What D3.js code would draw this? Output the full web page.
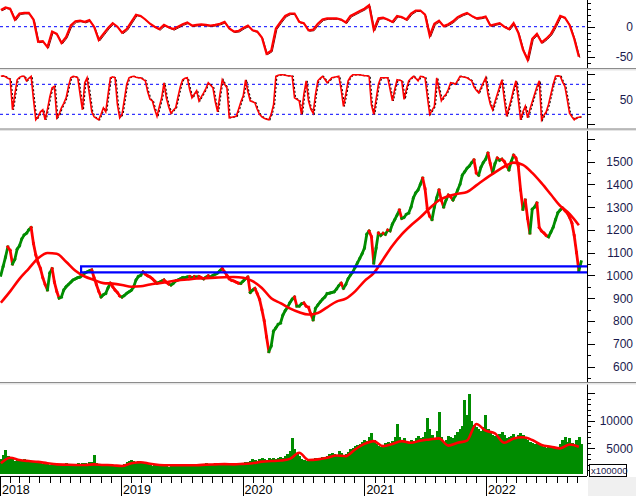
<!DOCTYPE html>
<html><head><meta charset="utf-8">
<script src="https://cdn.jsdelivr.net/npm/d3@7"></script>
<style>body{margin:0;background:#fff}svg{display:block;font-family:"Liberation Sans",Arial,sans-serif}</style>
</head><body><svg id="c" width="636" height="496"></svg>
<script>
// ---------------- DATA ----------------
const firstWeek = "2018-01-05";           // weekly samples, one every 7 days
const closes = [1000,1040,1080,1125,1110,1050,1070,1115,1130,1160,1177,1185,1200,1210,1140,1090,1055,1030,990,960,
936,1010,1030,970,930,900,905,936,950,960,970,980,985,990,993,1000,1010,1015,1020,1024,
990,960,930,905,915,921,945,966,950,936,925,910,905,912,921,928,935,950,980,995,
1000,1015,1005,998,993,985,975,966,970,975,980,970,962,958,965,975,980,985,990,990,
993,995,990,995,993,995,990,985,992,998,993,1000,1005,1010,1020,1030,1015,1000,985,978,
975,970,966,965,975,985,993,925,935,943,920,895,850,800,730,665,690,755,770,785,
791,825,845,860,880,895,905,865,865,875,879,865,860,830,805,855,870,883,895,905,
920,922,925,928,940,955,966,943,960,985,1001,1015,1035,1055,1075,1095,1120,1180,1195,1170,
1054,1120,1186,1175,1185,1180,1199,1195,1225,1245,1265,1287,1250,1255,1268,1274,1300,1340,1362,1375,
1400,1427,1380,1290,1260,1245,1300,1340,1375,1330,1300,1330,1353,1345,1331,1350,1375,1400,1440,1455,
1470,1480,1495,1507,1450,1440,1475,1495,1510,1537,1490,1450,1490,1515,1505,1510,1500,1480,1463,1500,
1528,1515,1480,1375,1290,1331,1250,1186,1290,1300,1318,1210,1195,1186,1175,1169,1190,1212,1245,1275,
1287,1296,1285,1274,1255,1230,1175,1100,1020,1060];
const volumes = [3000,3800,4700,3600,3400,3000,2800,2900,2700,2800,3000,2600,2700,2500,2600,2800,2400,2500,
2200,2100,2300,2000,2100,1900,2000,2200,2100,2000,2300,2200,2100,2000,2100,2300,2200,2400,2300,2200,2500,2600,3800,2400,2200,2100,2000,2000,1900,2100,2000,1900,1800,1900,
2000,2200,2500,2700,2900,2800,2600,2700,2500,2300,2200,2100,2000,
1800,1900,2000,1800,1900,2000,1800,1700,1900,2000,1800,1900,2000,2100,1900,2000,2200,2000,1900,2100,2000,2200,2100,2300,2200,2000,2100,2300,2200,2100,2400,2200,2300,2100,2000,2200,2400,2300,2200,
2400,2600,2500,2800,3000,2900,2800,3100,3200,3000,2900,3200,3100,3300,3000,3200,3400,3300,3600,4000,4600,
6900,4800,4200,3600,3000,2900,2800,
2900,3000,3100,3200,3000,3300,3400,3500,3700,3900,4200,4000,3800,4500,4200,3600,3900,4300,4800,
5000,5400,5600,5800,6200,6600,6400,7000,7800,6500,
5800,5400,5200,5600,5900,6200,6000,6300,7000,9400,
7000,6500,6800,6200,6000,6500,6300,6800,7200,6900,
7000,8000,10500,8500,7500,6800,8200,11600,7000,6200,
6500,7200,7000,6800,7500,8000,8500,9000,
13800,11000,14900,10000,9200,8800,
8500,8200,8800,11000,8500,7800,7500,7200,
7000,7600,8000,7400,6800,7000,7200,7600,7000,7500,
7800,7400,6800,6500,6200,6000,5800,6000,5600,5500,
5200,5000,5400,5200,5000,5300,5200,5800,6500,
7000,6200,6800,6000,5500,6500,7000,5800];
const stoch = [96,97,95,92,90,29,60,89,94,96,96,87,92,96,50,9,15,25,29,9,30,55,73,76,13,20,33,42,53,75,
93,96,95,93,60,29,83,93,60,25,15,12,9,20,33,25,60,93,95,93,40,13,20,50,80,93,95,96,94,93,
93,90,87,65,50,47,30,16,35,53,83,53,35,22,28,33,55,75,89,92,93,70,53,60,67,47,55,63,72,83,
78,73,45,25,60,89,80,73,13,14,15,16,30,45,57,89,65,47,45,43,30,20,15,12,10,9,20,39,96,98,
99,99,98,97,97,96,53,50,47,20,60,87,47,30,22,60,87,92,96,90,83,88,93,94,95,96,70,36,60,87,
95,99,99,99,99,98,97,97,96,39,20,50,80,93,93,93,93,70,47,70,89,88,87,50,70,87,92,96,92,87,
96,95,93,55,20,28,36,93,70,47,55,60,70,83,82,80,88,96,95,94,93,90,87,75,68,63,73,83,93,60,
40,29,45,60,75,89,50,16,33,50,70,87,50,9,25,36,13,30,45,60,75,87,9,18,25,40,60,80,96,97,
96,85,76,50,22,15,9,13,14,15];
// every 2 weeks
const osc = [28,32,30,12,22,23,23,12,-25,-24,-34,-8,-12,-27,-17,2,9,10,8,11,0,-22,-12,-2,6,0,-10,-4,8,20,
18,12,5,0,-4,3,-1,-4,0,4,7,2,3,4,3,2,3,5,8,-3,-8,-7,-2,2,-6,-8,-18,-45,-40,-3,
8,18,22,22,8,6,-6,-5,5,12,14,14,14,12,7,18,22,26,30,36,-5,14,15,12,8,18,16,12,22,27,
27,20,-15,5,10,1,4,9,16,20,23,18,14,15,17,2,4,6,0,-4,6,-10,-38,-55,-20,-12,-26,-20,-12,2,
18,15,3,-20,-50];
// every 4 weeks
const ma = [880,930,985,1030,1075,1098,1095,1060,1020,995,980,966,964,958,950,952,960,966,972,978,
982,986,988,990,992,993,990,975,945,900,878,855,838,828,835,860,885,898,930,975,
1010,1070,1130,1180,1220,1255,1295,1330,1348,1358,1366,1395,1425,1452,1478,1495,1485,1450,1405,1355,
1305,1270,1220];
const volMa = [2300,3300,2900,2700,2550,2300,2100,2050,2000,2000,2100,2000,1950,1800,2300,2500,2200,2000,1950,1950,
1950,1950,2050,2100,2150,2100,2200,2300,2600,2700,2800,3100,4200,2900,3000,3300,3700,3600,4800,5800,
6300,5400,5800,6300,6000,6400,6600,6800,5500,6000,6400,9400,8200,7700,6000,6800,7000,6500,5600,5300,
5000,5700,5300];
const zone = {top:1040, bottom:1013, start:"2018-09-03"};
const priceLabels = [600,700,800,900,1000,1100,1200,1300,1400,1500];
const oscLabels = [0,-50];
const stochLabels = [50];
const stochLevels = [20,80];
const volLabels = [5000,10000];
const yearLabels = ["2018","2019","2020","2021","2022"];

// ---------------- LAYOUT ----------------
const svg = d3.select("#c");
const AX = 587;
const parse = d3.timeParse("%Y-%m-%d");
const d0 = parse(firstWeek);
const wk = i => d3.timeDay.offset(d0, 7*i);
const x = d3.scaleTime().domain([new Date(2018,0,1), new Date(2023,0,1)]).range([-0.5, 607.5]);
const P = {
  osc:{top:0,bottom:68},
  sto:{top:71,bottom:128.5},
  pr:{top:131,bottom:382},
  vol:{top:384.5,bottom:474}
};
const yOsc = d3.scaleLinear().domain([-50,0]).range([56.7,26.7]);
const ySto = d3.scaleLinear().domain([0,100]).range([124.3,74.3]);
const yPr = d3.scaleLinear().domain([600,1500]).range([366.5,161.5]);
const yVol = d3.scaleLinear().domain([0,10000]).range([476,420.7]);

const defs = svg.append("defs");
Object.entries(P).forEach(([k,p])=>{
  defs.append("clipPath").attr("id","clip-"+k).append("rect")
    .attr("x",0).attr("y",p.top).attr("width",AX).attr("height",p.bottom-p.top);
});
const g = k => svg.append("g").attr("clip-path",`url(#clip-${k})`);

// separators
[[68,70.5],[128.5,131],[382,384.5]].forEach(([a,b])=>{
  svg.append("rect").attr("x",0).attr("y",a).attr("width",636).attr("height",b-a).attr("fill","#e4e4e4");
  svg.append("line").attr("x1",0).attr("x2",636).attr("y1",a+0.5).attr("y2",a+0.5).attr("stroke","#8c8c8c");
});

// ---------- Panel 1: oscillator ----------
const gO = g("osc");
gO.append("line").attr("x1",0).attr("x2",AX).attr("y1",yOsc(0)).attr("y2",yOsc(0))
  .attr("stroke","#0000ff").attr("stroke-dasharray","3,3");
const oscLine = d3.line().x((d,i)=>x(wk(i*2))).y(d=>yOsc(d));
gO.append("path").datum(osc).attr("d",oscLine).attr("fill","none").attr("stroke","#700").attr("stroke-width",1).attr("transform","translate(1,1)");
gO.append("path").datum(osc).attr("d",oscLine).attr("fill","none").attr("stroke","#ff0000").attr("stroke-width",2.2);

// ---------- Panel 2: stochastic ----------
const gS = g("sto");
stochLevels.forEach(v=>gS.append("line").attr("x1",0).attr("x2",AX).attr("y1",ySto(v)).attr("y2",ySto(v))
  .attr("stroke","#0000ff").attr("stroke-dasharray","3,3"));
const stoLine = d3.line().x((d,i)=>x(wk(i))).y(d=>ySto(d));
gS.append("path").datum(stoch).attr("d",stoLine).attr("fill","none").attr("stroke","#000").attr("stroke-width",1.2).attr("stroke-dasharray","2,2").attr("transform","translate(1,0)");
gS.append("path").datum(stoch).attr("d",stoLine).attr("fill","none").attr("stroke","#ff0000").attr("stroke-width",1.6);

// ---------- Panel 3: price ----------
const gP = g("pr");
closes.forEach((c,i)=>{
  if(i===0) return;
  const prev = closes[i-1];
  const up = c>=prev;
  gP.append("line").attr("x1",x(wk(i-1))).attr("y1",yPr(prev)).attr("x2",x(wk(i))).attr("y2",yPr(c))
    .attr("stroke",up?"#008c00":"#ff0000").attr("stroke-width",2.8).attr("stroke-linecap","square");
});
gP.append("path").datum(ma).attr("d",d3.line().x((d,i)=>x(wk(i*4))).y(d=>yPr(d)).curve(d3.curveMonotoneX))
  .attr("fill","none").attr("stroke","#ff0000").attr("stroke-width",2.6);
// support zone
const zx = x(parse(zone.start));
gP.append("path").attr("d",`M${AX},${yPr(zone.top)}H${zx}V${yPr(zone.bottom)}H${AX}`)
  .attr("fill","none").attr("stroke","#0000ff").attr("stroke-width",2.2);

// ---------- Panel 4: volume ----------
const gV = g("vol");
const bw = x(wk(1))-x(wk(0));
volumes.forEach((v,i)=>{
  gV.append("rect").attr("x",x(wk(i))-bw/2).attr("width",bw+0.6)
    .attr("y",yVol(v)).attr("height",P.vol.bottom-yVol(v)).attr("fill","#008c00").attr("shape-rendering","crispEdges");
});
gV.append("path").datum(volMa).attr("d",d3.line().x((d,i)=>x(wk(i*4))).y(d=>yVol(d)).curve(d3.curveMonotoneX))
  .attr("fill","none").attr("stroke","#ff0000").attr("stroke-width",2.6);

// ---------- Right axes ----------
const labelColor = "#1a1a4e";
function rightAxis(p, scale, ticks, majors, labels){
  svg.append("line").attr("x1",AX+0.5).attr("x2",AX+0.5).attr("y1",p.top).attr("y2",p.bottom).attr("stroke","#000");
  ticks.forEach(t=>{
    const yy = Math.round(scale(t))+0.5;
    if(yy<p.top||yy>p.bottom) return;
    const L = majors.includes(t)?8:4;
    svg.append("line").attr("x1",AX).attr("x2",AX+L).attr("y1",yy).attr("y2",yy).attr("stroke","#000");
  });
  labels.forEach(t=>{
    svg.append("text").attr("x",633).attr("y",scale(t)+4.5).attr("text-anchor","end")
      .attr("font-size",12).attr("fill",labelColor).text(t);
  });
}
rightAxis(P.osc, yOsc, d3.range(-60,50,10), oscLabels, oscLabels);
rightAxis(P.sto, ySto, [0,20,35,50,65,80,100], [0,50,100], stochLabels);
rightAxis(P.pr, yPr, d3.range(550,1650,50), d3.range(600,1700,100), priceLabels);
rightAxis({top:P.vol.top,bottom:476}, yVol, d3.range(1000,16000,1000), [5000,10000,15000], volLabels);

// x100000 box
svg.append("rect").attr("x",588).attr("y",477).attr("width",48).attr("height",19).attr("fill","#f0f0f0");
svg.append("rect").attr("x",589.5).attr("y",464.5).attr("width",37).attr("height",12).attr("fill","#fff").attr("stroke","#000");
svg.append("text").attr("x",591).attr("y",474).attr("font-size",9.5).attr("fill",labelColor).text("x100000");

// ---------- X axis ----------
svg.append("line").attr("x1",0).attr("x2",AX).attr("y1",476.5).attr("y2",476.5).attr("stroke","#000");
d3.timeMonth.range(new Date(2018,0,1), new Date(2022,11,1)).forEach(m=>{
  const xx = Math.round(x(m))+0.5;
  if(xx<0||xx>AX) return;
  const isYear = m.getMonth()===0;
  svg.append("line").attr("x1",xx).attr("x2",xx).attr("y1",477).attr("y2",isYear?496:483).attr("stroke","#000");
});
yearLabels.forEach(yl=>{
  const xx = x(new Date(+yl,0,1));
  svg.append("text").attr("x",Math.max(2,xx+2)).attr("y",494).attr("font-size",12.5).attr("fill","#000").text(yl);
});
</script></body></html>
